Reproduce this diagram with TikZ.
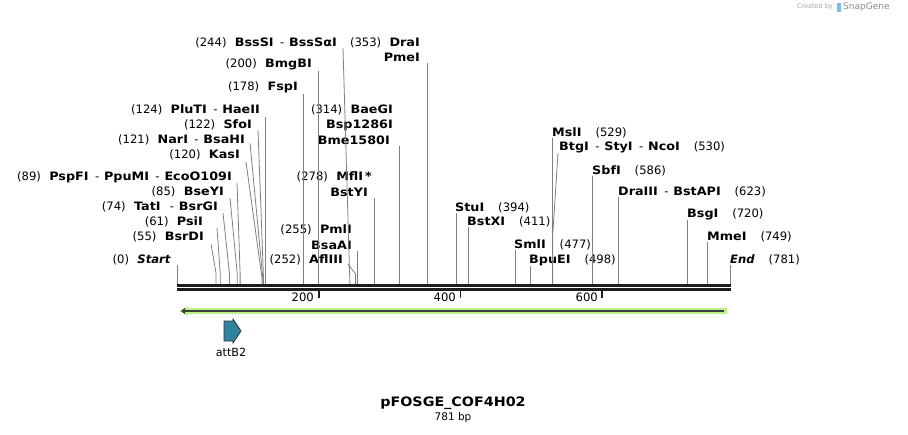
\documentclass[tikz,border=0pt]{standalone}
\usepackage{fontspec}
\setmainfont{DejaVu Sans}[BoldFeatures={FakeStretch=1.1}]
\usetikzlibrary{arrows.meta,calc,positioning}
\definecolor{cutgray}{RGB}{128,128,128}
\definecolor{bbblack}{RGB}{30,30,30}
\definecolor{lgreen}{RGB}{185,240,135}
\definecolor{dgreen}{RGB}{55,65,55}
\definecolor{featblue}{RGB}{48,130,157}
\definecolor{featedge}{RGB}{40,50,60}
\definecolor{logoblue}{RGB}{120,190,235}
\newcommand\enzsize{\fontsize{11.6}{13}\selectfont}
\newcommand\enzsep{\hspace{0.55em}-\hspace{0.42em}}
\newcommand\lgap{\hspace{0.72em}}
\newcommand\rgap{\hspace{1.2em}}

\begin{document}
\begin{tikzpicture}[x=1pt, y=-1pt,
  enzl/.style={anchor=east, inner sep=0pt, font=\enzsize},
  enzr/.style={anchor=west, inner sep=0pt, font=\enzsize},
  cut/.style={draw=cutgray, line width=0.8pt},
  bb/.style={draw=bbblack, line width=2.6pt},
  tick/.style={draw=bbblack, line width=1.6pt}]
  \useasboundingbox (0,0) rectangle (908,434);

  \coordinate (s0) at (177.0,284);   \coordinate (s55) at (216.0,284);  \coordinate (s61) at (220.2,284);
  \coordinate (s74) at (229.4,284);  \coordinate (s85) at (237.2,284);  \coordinate (s89) at (240.1,284);
  \coordinate (s120) at (262.0,284); \coordinate (s121) at (262.8,284); \coordinate (s122) at (263.5,284);
  \coordinate (s124) at (264.9,284); \coordinate (s178) at (303.2,284); \coordinate (s200) at (318.7,284);
  \coordinate (s244) at (349.9,284); \coordinate (s252) at (355.6,284); \coordinate (s255) at (357.7,284);
  \coordinate (s278) at (374.0,284); \coordinate (s314) at (399.5,284); \coordinate (s353) at (427.2,284);
  \coordinate (s394) at (456.2,284); \coordinate (s411) at (468.3,284); \coordinate (s477) at (515.1,284);
  \coordinate (s498) at (529.9,284); \coordinate (s529) at (551.9,284); \coordinate (s530) at (552.6,284);
  \coordinate (s586) at (592.3,284); \coordinate (s623) at (618.5,284); \coordinate (s720) at (687.3,284);
  \coordinate (s749) at (707.8,284); \coordinate (s781) at (730.5,284);

  \node[enzl] (start) at (171,260) {(0)\lgap\textbf{\textit{Start}}};
  \node[enzl] (bsrdi) at (204,237) {(55)\lgap\textbf{BsrDI}};
  \node[enzl] (psii) at (203,222) {(61)\lgap\textbf{PsiI}};
  \node[enzl] (tati) at (218,207) {(74)\lgap\textbf{TatI}\hspace{0.8em}-\hspace{0.42em}\textbf{BsrGI}};
  \node[enzl] (bseyi) at (224,192) {(85)\lgap\textbf{BseYI}};
  \node[enzl] (pspfi) at (232,177) {(89)\lgap\textbf{PspFI}\enzsep\textbf{PpuMI}\enzsep\textbf{EcoO109I}};
  \node[enzl] (kasi) at (240,155) {(120)\lgap\textbf{KasI}};
  \node[enzl] (nari) at (245,140) {(121)\lgap\textbf{NarI}\enzsep\textbf{BsaHI}};
  \node[enzl] (sfoi) at (252,125) {(122)\lgap\textbf{SfoI}};
  \node[enzl] (pluti) at (260,110) {(124)\lgap\textbf{PluTI}\enzsep\textbf{HaeII}};
  \node[enzl] (fspi) at (298,87) {(178)\lgap\textbf{FspI}};
  \node[enzl] (bmgbi) at (312,64) {(200)\lgap\textbf{BmgBI}};
  \node[enzl] (bsssi) at (337,43) {(244)\lgap\textbf{BssSI}\enzsep\textbf{BssSαI}};
  \node[enzl] (afliii) at (343,260) {(252)\lgap\textbf{AflIII}};
  \node[enzl] (pmli) at (352,230) {(255)\lgap\textbf{PmlI}};
  \node[enzl] (bsaai) at (352,245) {\textbf{BsaAI}};
  \node[enzl] (mfli) at (372,177) {(278)\lgap\textbf{MflI\,*}};
  \node[enzl] (bstyi) at (368,192) {\textbf{BstYI}};
  \node[enzl] (baegi) at (393,110) {(314)\lgap\textbf{BaeGI}};
  \node[enzl] (bsp) at (393,125) {\textbf{Bsp1286I}};
  \node[enzl] (bme) at (390,140) {\textbf{Bme1580I}};
  \node[enzl] (drai) at (420,43) {(353)\lgap\textbf{DraI}};
  \node[enzl] (pmei) at (420,57) {\textbf{PmeI}};

  \node[enzr] (stui) at (455,208) {\textbf{StuI}\rgap(394)};
  \node[enzr] (bstxi) at (467,222) {\textbf{BstXI}\rgap(411)};
  \node[enzr] (smli) at (514,245) {\textbf{SmlI}\rgap(477)};
  \node[enzr] (bpuei) at (529,260) {\textbf{BpuEI}\rgap(498)};
  \node[enzr] (msli) at (552,133) {\textbf{MslI}\rgap(529)};
  \node[enzr] (btgi) at (559,147) {\textbf{BtgI}\enzsep\textbf{StyI}\enzsep\textbf{NcoI}\rgap(530)};
  \node[enzr] (sbfi) at (592,171) {\textbf{SbfI}\rgap(586)};
  \node[enzr] (draiii) at (618,192) {\textbf{DraIII}\enzsep\textbf{BstAPI}\rgap(623)};
  \node[enzr] (bsgi) at (687,214) {\textbf{BsgI}\rgap(720)};
  \node[enzr] (mmei) at (707,237) {\textbf{MmeI}\rgap(749)};
  \node[enzr] (endl) at (730,260) {\textbf{\textit{End}}\rgap(781)};

  \coordinate (c55) at (211,244);  \coordinate (c61) at (217,228);  \coordinate (c74) at (223,213);
  \coordinate (c85) at (230,198);  \coordinate (c89) at (237,183);  \coordinate (c120) at (246,162);
  \coordinate (c121) at (250,143); \coordinate (c122) at (258,130); \coordinate (c244) at (343,48);
  \coordinate (c252) at (348,264); \coordinate (c530) at (558,153);

  \draw[cut] (s0) -- (s0 |- start.south);
  \draw[cut] (c55) -- ([yshift=11pt]s55) -- (s55);
  \draw[cut] (c61) -- ([yshift=11pt]s61) -- (s61);
  \draw[cut] (c74) -- ([yshift=11pt]s74) -- (s74);
  \draw[cut] (c85) -- ([yshift=11pt]s85) -- (s85);
  \draw[cut] (c89) -- ([yshift=11pt]s89) -- (s89);
  \draw[cut] (c120) -- ([yshift=6pt]s120) -- (s120);
  \draw[cut] (c121) -- ([yshift=6pt]s121) -- (s121);
  \draw[cut] (c122) -- ([yshift=6pt]s122) -- (s122);
  \draw[cut] (s124) -- ([yshift=-2pt]s124 |- pluti.south);
  \draw[cut] (s178) -- ([yshift=-1pt]s178 |- fspi.south);
  \draw[cut] (s200) -- ([yshift=-1pt]s200 |- bmgbi.south);
  \draw[cut] (c244) -- (s244);
  \draw[cut] (c252) -- ([yshift=10pt]s252) -- (s252);
  \draw[cut] (s255) -- ([yshift=-1pt]s255 |- bsaai.south);
  \draw[cut] (s278) -- ([yshift=-1pt]s278 |- bstyi.south);
  \draw[cut] (s314) -- ([yshift=-1pt]s314 |- bme.south);
  \draw[cut] (s353) -- ([yshift=-1pt]s353 |- pmei.south);
  \draw[cut] (s394) -- (s394 |- stui.south);
  \draw[cut] (s411) -- (s411 |- bstxi.south);
  \draw[cut] (s477) -- (s477 |- smli.south);
  \draw[cut] (s498) -- (s498 |- bpuei.south);
  \draw[cut] (s529) -- (s529 |- msli.south);
  \draw[cut] (c530) -- ([yshift=47pt]s530) -- (s530);
  \draw[cut] (s586) -- (s586 |- sbfi.south);
  \draw[cut] (s623) -- (s623 |- draiii.south);
  \draw[cut] (s720) -- (s720 |- bsgi.south);
  \draw[cut] (s749) -- (s749 |- mmei.south);
  \draw[cut] (s781) -- (s781 |- endl.south);

  \draw[bb] ([yshift=-1.4pt]s0) -- ([yshift=-1.4pt]s781);
  \draw[bb, line width=2.4pt] ([yshift=-5.5pt]s0) -- ([yshift=-5.5pt]s781);

  \coordinate (t200) at (318.7,291); \coordinate (t400) at (460.5,291); \coordinate (t600) at (602.2,291);
  \draw[tick] (t200) -- ++(0,6.5);
  \draw[tick] (t400) -- ++(0,6.5);
  \draw[tick] (t600) -- ++(0,6.5);
  \node[enzl] (l200) at (314,297.5) {200};
  \node[enzl] (l400) at (456,297.5) {400};
  \node[enzl] (l600) at (598,297.5) {600};

  \coordinate (gl) at (179,311);
  \coordinate (gr) at (727,311);
  \fill[lgreen] (gl) -- ([shift={(9pt,4.8pt)}]gl) -- ([shift={(9pt,2.9pt)}]gl) -- ([yshift=2.9pt]gr)
    -- ([yshift=-2.9pt]gr) -- ([shift={(9pt,-2.9pt)}]gl) -- ([shift={(9pt,-4.8pt)}]gl) -- cycle;
  \draw[dgreen, line width=2pt, -{Triangle[length=4pt,width=6pt]}] ([xshift=-3pt]gr) -- ([xshift=2pt]gl);

  \draw[featedge, fill=featblue, line width=0.8pt] (224,321) -- (233,321) -- (233,319) -- (241,331)
    -- (233,343) -- (233,341) -- (224,341) -- cycle;
  \node[font=\fontsize{11.2}{13}\selectfont, inner sep=0pt] (attb2) at (231,352) {attB2};

  \node[font=\fontsize{13}{15}\selectfont\bfseries, inner sep=0pt] (title) at (453,403) {pFOSGE\_COF4H02};
  \node[font=\fontsize{10.5}{12}\selectfont, inner sep=0pt, below=3pt of title] (size) {781 bp};

  \node[font=\fontsize{6.5}{8}\selectfont, text=black!35, inner sep=0pt, anchor=east] (made) at (833,7) {Created by};
  \fill[logoblue] (837,3) rectangle (840.5,12);
  \node[font=\fontsize{9}{10}\selectfont, text=black!45, inner sep=0pt, anchor=west] (snap) at (843,7) {SnapGene};
\end{tikzpicture}
\end{document}
